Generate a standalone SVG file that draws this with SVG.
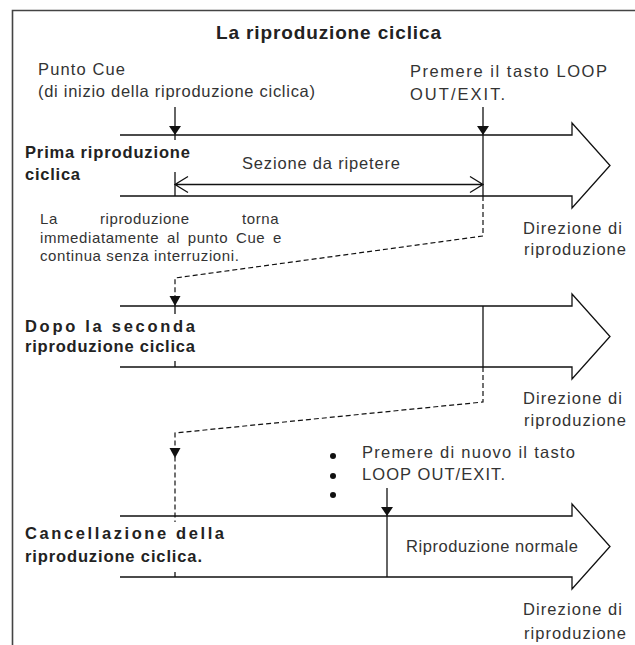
<svg xmlns="http://www.w3.org/2000/svg" width="635" height="645" viewBox="0 0 635 645">
<defs>
<style>
.t{font-family:"Liberation Sans",Arial,sans-serif;font-size:16.5px;fill:#333}
.p{font-family:"Liberation Sans",Arial,sans-serif;font-size:15px;fill:#333;letter-spacing:0.6px}
.b{font-family:"Liberation Sans",Arial,sans-serif;font-size:16.5px;font-weight:bold;fill:#222}
.ln{stroke:#111;stroke-width:1.3;fill:none}
.ds{stroke:#111;stroke-width:1.2;fill:none;stroke-dasharray:5,3}
.tri{fill:#111}
</style>
</defs>
<rect width="635" height="645" fill="#fff"/>
<path d="M12.5,645 V10.5 H635" stroke="#444" stroke-width="1.6" fill="none"/>
<text x="216" y="39" textLength="225" lengthAdjust="spacing" style="font-family:'Liberation Sans',Arial,sans-serif;font-size:19px;font-weight:bold;fill:#222">La riproduzione ciclica</text>

<g id="arrow1">
<path class="ln" d="M120,135 H572 V123 L610,165.5 L572,208 V196 H120"/>
</g>
<g id="arrow2">
<path class="ln" d="M120,306 H572 V294 L610,336.5 L572,379 V367 H120"/>
</g>
<g id="arrow3">
<path class="ln" d="M120,516 H572 V504 L610,546.5 L572,589 V577 H120"/>
</g>

<g id="cue-point">
<text class="t" x="38" y="75" textLength="87" lengthAdjust="spacing">Punto Cue</text>
<text class="t" x="38" y="97" textLength="277" lengthAdjust="spacing">(di inizio della riproduzione ciclica)</text>
</g>
<g id="loop-out">
<text class="t" x="410" y="77" textLength="197" lengthAdjust="spacing">Premere il tasto LOOP</text>
<text class="t" x="410" y="100" textLength="95" lengthAdjust="spacing">OUT/EXIT.</text>
</g>
<g id="label1">
<text class="b" x="25" y="158" textLength="165" lengthAdjust="spacing">Prima riproduzione</text>
<text class="b" x="25" y="180" textLength="55" lengthAdjust="spacing">ciclica</text>
</g>
<g id="section">
<text class="t" x="242" y="169" textLength="158" lengthAdjust="spacing">Sezione da ripetere</text>
</g>
<g id="note">
<text class="p" y="224"><tspan x="40">La </tspan><tspan x="100">riproduzione </tspan><tspan x="242">torna</tspan></text>
<text class="p" x="40" y="242.5" word-spacing="3">immediatamente al punto Cue e</text>
<text class="p" x="40" y="261">continua senza interruzioni.</text>
</g>
<g id="dir1">
<text class="t" x="523" y="234" textLength="99" lengthAdjust="spacing">Direzione di</text>
<text class="t" x="524" y="255" textLength="102" lengthAdjust="spacing">riproduzione</text>
</g>
<g id="label2">
<text class="b" x="25" y="331.5" textLength="170" lengthAdjust="spacing">Dopo la seconda</text>
<text class="b" x="25" y="351.5" textLength="170" lengthAdjust="spacing">riproduzione ciclica</text>
</g>
<g id="dir2">
<text class="t" x="523" y="404" textLength="99" lengthAdjust="spacing">Direzione di</text>
<text class="t" x="524" y="426" textLength="102" lengthAdjust="spacing">riproduzione</text>
</g>
<g id="loop-out2">
<circle cx="333" cy="456" r="3" fill="#111"/>
<circle cx="333" cy="476" r="3" fill="#111"/>
<circle cx="333" cy="495" r="3" fill="#111"/>
<text class="t" x="362" y="458" textLength="213" lengthAdjust="spacing">Premere di nuovo il tasto</text>
<text class="t" x="362" y="480" textLength="143" lengthAdjust="spacing">LOOP OUT/EXIT.</text>
</g>
<g id="label3">
<text class="b" x="25" y="539" textLength="199" lengthAdjust="spacing">Cancellazione della</text>
<text class="b" x="25" y="561.5" textLength="177" lengthAdjust="spacing">riproduzione ciclica.</text>
</g>
<g id="normal">
<text class="t" x="406" y="552" textLength="172" lengthAdjust="spacing">Riproduzione normale</text>
</g>
<g id="dir3">
<text class="t" x="523" y="615" textLength="99" lengthAdjust="spacing">Direzione di</text>
<text class="t" x="524" y="639" textLength="102" lengthAdjust="spacing">riproduzione</text>
</g>

<g id="connectors">
<line class="ln" x1="175" y1="107" x2="175" y2="140"/>
<polygon class="tri" points="169,126 181,126 175,135"/>
<line class="ln" x1="175" y1="172" x2="175" y2="196"/>
<line class="ln" x1="483" y1="107" x2="483" y2="196"/>
<polygon class="tri" points="477,126 489,126 483,135"/>
<path class="ln" d="M175,184.5 H483 M188,176.5 L175,184.5 L188,192.5 M470,176.5 L483,184.5 L470,192.5"/>
<path class="ds" d="M483,196 V236 L175,278 V306"/>
<polygon class="tri" points="169.5,296 180.5,296 175,306"/>
<line class="ln" x1="175" y1="306" x2="175" y2="314"/>
<line class="ln" x1="175" y1="361" x2="175" y2="367"/>
<line class="ln" x1="483" y1="306" x2="483" y2="367"/>
<path class="ds" d="M483,367 V402 L175,433 V522"/>
<polygon class="tri" points="169.5,448 180.5,448 175,458"/>
<line class="ln" x1="175" y1="572" x2="175" y2="577"/>
<line class="ln" x1="387" y1="488" x2="387" y2="577"/>
<polygon class="tri" points="381,507 393,507 387,516"/>
</g>
</svg>
